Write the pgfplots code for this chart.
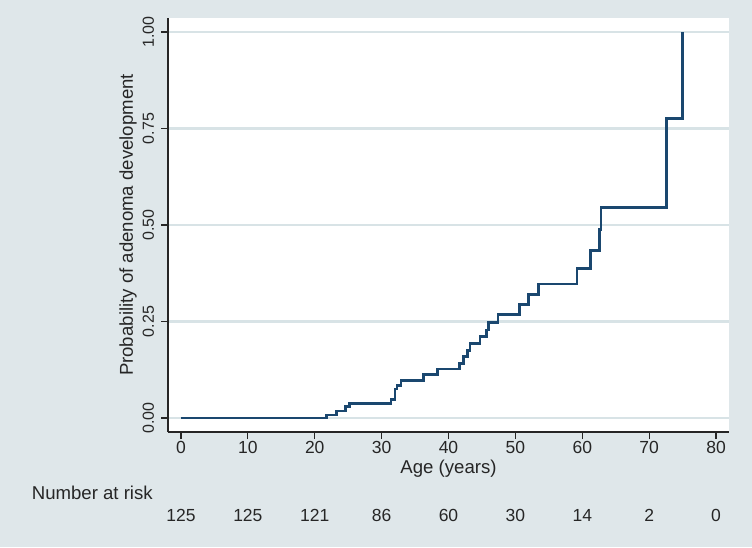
\documentclass[border=0pt]{standalone}
\usepackage{pgfplots}
\pgfplotsset{compat=1.18}
\usepackage{fontspec}
\setmainfont{Liberation Sans}
\definecolor{bg}{HTML}{DFE7EA}
\definecolor{gridc}{HTML}{D8E3E6}
\definecolor{navy}{HTML}{1A476F}
\definecolor{txt}{HTML}{262626}
\begin{document}
\fontsize{17.5}{21}\selectfont
\begin{tikzpicture}[x=1pt,y=1pt]
\fill[bg] (0,0) rectangle (752,547);
\begin{axis}[
  at={(168pt,115pt)}, anchor=south west,
  scale only axis, width=561pt, height=414pt,
  xmin=-1.94, xmax=81.94, ymin=-0.0363, ymax=1.0363,
  axis x line*=bottom, axis y line*=left,
  axis line style={-, line width=1.1pt, color=txt},
  axis background/.style={fill=white},
  clip=false,
  xtick={0,10,...,80},
  ytick={0,0.25,0.5,0.75,1},
  yticklabel={\pgfmathprintnumber[fixed,fixed zerofill,precision=2]{\tick}},
  /pgf/number format/assume math mode=true,
  tick align=outside,
  major tick length=7pt,
  tick style={line width=1.1pt, color=txt},
  ymajorgrids,
  grid style={line width=2.2pt, color=gridc},
  xticklabel style={font=\fontsize{17.5}{21}\selectfont, color=txt, anchor=north, inner sep=0pt},
  xticklabel shift=2pt,
  yticklabel style={font=\fontsize{16}{19}\selectfont, color=txt, rotate=90, anchor=south, inner sep=0pt},
  yticklabel shift=6.7pt,
  every axis x label/.style={at={(rel axis cs:0.5,0)}, yshift=-41.5pt, anchor=base, inner sep=0pt, font=\fontsize{18.6}{22}\selectfont, color=txt},
  every axis y label/.style={at={(rel axis cs:0,0.5)}, xshift=-40pt, rotate=90, anchor=center, inner sep=0pt, font=\fontsize{18.6}{22}\selectfont, color=txt},
  xlabel={Age (years)},
  ylabel={Probability of adenoma development},
]
\addplot[const plot, navy, line width=2.8pt, line join=miter] coordinates {
(0,0) (21.8,0.008) (23.3,0.018) (24.6,0.029) (25.2,0.038)
(31.4,0.048) (32.0,0.075) (32.3,0.085) (32.9,0.098)
(36.3,0.113) (38.3,0.127) (41.7,0.142) (42.2,0.159) (42.8,0.174)
(43.2,0.192) (44.7,0.211) (45.7,0.228) (46.0,0.247) (47.4,0.269)
(50.6,0.293) (52.0,0.319) (53.5,0.347) (59.2,0.388) (61.2,0.433)
(62.6,0.489) (62.8,0.546) (72.6,0.775) (75.0,1.0)
};
\node[anchor=base west, inner sep=0pt, color=txt, font=\fontsize{18.6}{22}\selectfont] at (axis cs:-22.33,-0.2106) {Number at risk};
\node[anchor=base, inner sep=0pt, color=txt] at (axis cs:0,-0.2687) {125};
\node[anchor=base, inner sep=0pt, color=txt] at (axis cs:10,-0.2687) {125};
\node[anchor=base, inner sep=0pt, color=txt] at (axis cs:20,-0.2687) {121};
\node[anchor=base, inner sep=0pt, color=txt] at (axis cs:30,-0.2687) {86};
\node[anchor=base, inner sep=0pt, color=txt] at (axis cs:40,-0.2687) {60};
\node[anchor=base, inner sep=0pt, color=txt] at (axis cs:50,-0.2687) {30};
\node[anchor=base, inner sep=0pt, color=txt] at (axis cs:60,-0.2687) {14};
\node[anchor=base, inner sep=0pt, color=txt] at (axis cs:70,-0.2687) {2};
\node[anchor=base, inner sep=0pt, color=txt] at (axis cs:80,-0.2687) {0};
\end{axis}
\end{tikzpicture}
\end{document}
